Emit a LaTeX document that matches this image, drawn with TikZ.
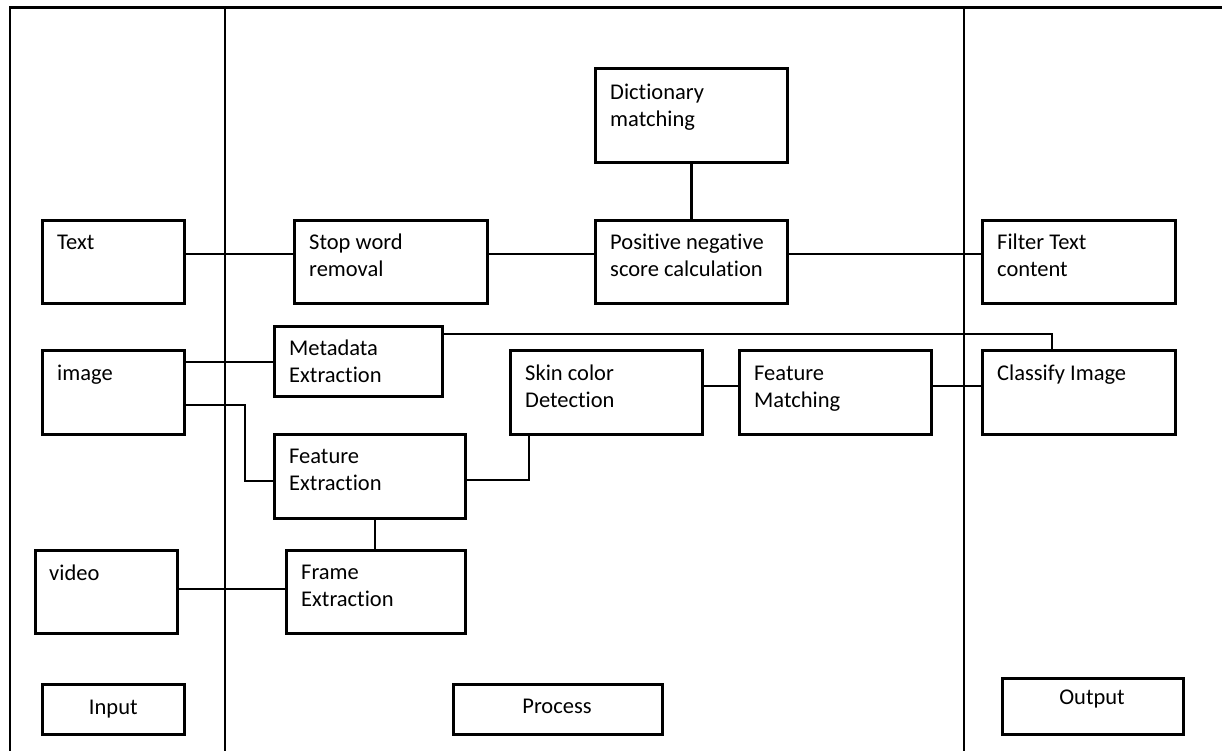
\documentclass[tikz,border=0pt]{standalone}
\usepackage{fontspec}
\setmainfont{Carlito}[Ligatures=NoCommon]
\begin{document}
\begin{tikzpicture}[x=1pt,y=-1pt,
  box/.style={draw=black,line width=2.6pt,anchor=north west,inner sep=0pt},
  lbl/.style={anchor=base west,inner sep=0pt,align=left,font=\fontsize{22.5}{27.5}\selectfont},
  clbl/.style={inner sep=0pt,font=\fontsize{22.5}{27.5}\selectfont},
  wire/.style={draw=black,line width=2.4pt},
  frame/.style={draw=black,line width=2.8pt}]
\useasboundingbox (0,0) rectangle (1222,750);
% frame
\coordinate (fbl) at (10,752);
\coordinate (ftl) at (10,7.5);
\coordinate (ftr) at (1224,7.5);
\coordinate (d1t) at (225,7.5);
\coordinate (d1b) at (225,752);
\coordinate (d2t) at (964,7.5);
\coordinate (d2b) at (964,752);
\draw[frame] (fbl) -- (ftl) -- (ftr);
\draw[frame] (d1t) -- (d1b);
\draw[frame] (d2t) -- (d2b);
% boxes
\node[box,minimum width=142pt,minimum height=83pt] (text) at (41,219) {};
\node[box,minimum width=142pt,minimum height=84pt] (image) at (41,349) {};
\node[box,minimum width=142pt,minimum height=83pt] (video) at (34,549) {};
\node[box,minimum width=142pt,minimum height=50pt] (input) at (41,683) {};
\node[box,minimum width=193pt,minimum height=83pt] (stop) at (293,219) {};
\node[box,minimum width=192pt,minimum height=94pt] (dict) at (594,67) {};
\node[box,minimum width=192pt,minimum height=83pt] (pos) at (594,219) {};
\node[box,minimum width=193pt,minimum height=83pt] (filter) at (981,219) {};
\node[box,minimum width=168pt,minimum height=70pt] (meta) at (273,325) {};
\node[box,minimum width=192pt,minimum height=84pt] (skin) at (509,349) {};
\node[box,minimum width=192pt,minimum height=84pt] (fmatch) at (738,349) {};
\node[box,minimum width=193pt,minimum height=84pt] (classify) at (981,349) {};
\node[box,minimum width=191pt,minimum height=84pt] (fext) at (273,433) {};
\node[box,minimum width=179pt,minimum height=83pt] (frame) at (285,549) {};
\node[box,minimum width=209pt,minimum height=50pt] (process) at (452,683) {};
\node[box,minimum width=181pt,minimum height=56pt] (output) at (1001,677) {};
% labels (base west = baseline of the last line)
\node[lbl] (l-text) at (57,249) {Text};
\node[lbl] (l-image) at (57,380) {image};
\node[lbl] (l-video) at (49,580) {video};
\node[clbl] (l-input) at (input.center) {Input};
\node[lbl] (l-stop) at (309,276.5) {Stop word\\removal};
\node[lbl] (l-dict) at (610,126.5) {Dictionary\\matching};
\node[lbl] (l-pos) at (610,276.5) {Positive negative\\score calculation};
\node[lbl] (l-filter) at (997,276.5) {Filter Text\\content};
\node[lbl] (l-meta) at (289,382.5) {Metadata\\Extraction};
\node[lbl] (l-skin) at (525,407.5) {Skin color\\Detection};
\node[lbl] (l-fmatch) at (754,407.5) {Feature\\Matching};
\node[lbl] (l-classify) at (997,380) {Classify Image};
\node[lbl] (l-fext) at (289,490.5) {Feature\\Extraction};
\node[lbl] (l-frame) at (301,606.5) {Frame\\Extraction};
\node[clbl] (l-process) at (557,706) {Process};
\node[clbl] (l-output) at (1092,699) {Output};
% connectors
\draw[wire] (text.east |- 0,254) -- (stop.west |- 0,254);
\draw[wire] (stop.east |- 0,254) -- (pos.west |- 0,254);
\draw[wire] (pos.east |- 0,254) -- (filter.west |- 0,254);
\draw[wire] (dict.south) -- (pos.north -| dict.south);
\draw[wire] (image.east |- 0,362) -- (meta.west |- 0,362);
\draw[wire] (meta.east |- 0,334) -- (1052,334) -- (classify.north -| 1052,0);
\draw[wire] (image.east |- 0,405) -- (245,405) -- (245,481) -- (fext.west |- 0,481);
\draw[wire] (fext.east |- 0,480) -- (529,480) -- (skin.south -| 529,0);
\draw[wire] (skin.east |- 0,386) -- (fmatch.west |- 0,386);
\draw[wire] (fmatch.east |- 0,386) -- (classify.west |- 0,386);
\draw[wire] (fext.south -| 375,0) -- (frame.north -| 375,0);
\draw[wire] (video.east |- 0,589) -- (frame.west |- 0,589);
\end{tikzpicture}
\end{document}
